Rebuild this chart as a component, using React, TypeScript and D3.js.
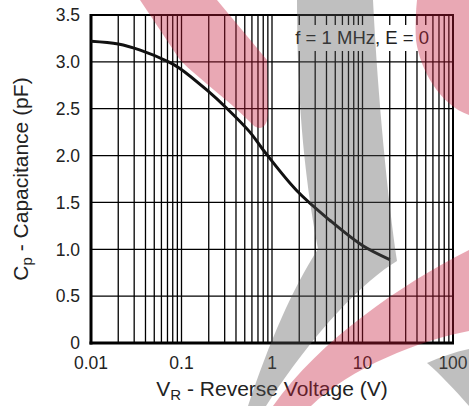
import React, { useEffect } from 'react';
import * as d3 from 'd3';

// Reverse voltage (V) and capacitance (pF)
const voltage = [0.01, 0.02, 0.035, 0.072, 0.096, 0.19, 0.32, 0.57, 0.8, 1.86, 4.35, 10, 20];
const capacitance = [3.22, 3.19, 3.125, 3.0, 2.93, 2.7, 2.5, 2.25, 2.06, 1.63, 1.31, 1.04, 0.89];

const xTickLabels = ['0.01', '0.1', '1', '10', '100'];
const yTickValues = [0, 0.5, 1, 1.5, 2, 2.5, 3, 3.5];

const W = 469;
const H = 406;
const margin = { top: 15, right: 16, bottom: 63, left: 91 };
const FONT = '"Liberation Sans", Arial, Helvetica, sans-serif';

// background logo watermark (decoration only)
const PINK = 'rgb(200,30,60)';
const GREY = 'rgb(90,90,90)';
const watermark = [
  { fill: PINK, d: 'M140,0 L217,0 L267,60 L268,112 C268,130 258,132 250,122 C225,97 200,80 180,60 Z' },
  { fill: PINK, d: 'M417,0 L469,0 L469,115 C440,105 420,70 416,40 C415,25 416,10 417,0 Z' },
  { fill: GREY, d: 'M297,0 L373,0 C378,100 388,200 397,261 C365,280 315,330 266,406 L248,406 C270,340 292,290 318,249 C303,170 297,90 297,0 Z' },
  { fill: PINK, d: 'M273,406 C320,340 400,285 469,250 L469,331 C420,340 350,368 311,406 Z' },
  { fill: GREY, d: 'M427,363 C440,357 455,352 469,349 L469,406 C455,390 440,374 427,363 Z' },
];

const App = () => {
  useEffect(() => {
    document.body.style.margin = '0';
  }, []);

  const innerW = W - margin.left - margin.right;
  const innerH = H - margin.top - margin.bottom;

  const x = d3.scaleLog().domain([0.01, 100]).range([margin.left, margin.left + innerW]);
  const y = d3.scaleLinear().domain([0, 3.5]).range([margin.top + innerH, margin.top]);

  const gridX = x.ticks();
  const majorX = xTickLabels.map(Number);

  const line = d3
    .line<number>()
    .x((_, i) => x(voltage[i]))
    .y((d) => y(d))
    .curve(d3.curveCatmullRom.alpha(0.5));

  const x0 = margin.left;
  const x1 = margin.left + innerW;
  const y0 = margin.top + innerH;
  const y1 = margin.top;

  return (
    <svg width={W} height={H} style={{ display: 'block', background: '#fff' }} fontFamily={FONT}>
      {/* grid */}
      <g stroke="#000" strokeWidth={1.3}>
        {gridX.map((v) => (
          <line key={'gx' + v} x1={x(v)} x2={x(v)} y1={y1} y2={y0} />
        ))}
        {yTickValues.map((v) => (
          <line key={'gy' + v} x1={x0} x2={x1} y1={y(v)} y2={y(v)} />
        ))}
      </g>

      {/* annotation box */}
      <rect x={292} y={25} width={140} height={26} fill="#fff" />
      <text x={429} y={44} textAnchor="end" fontSize={18.5} fill="#222">
        f = 1 MHz, E = 0
      </text>

      {/* frame */}
      <rect x={x0} y={y1} width={innerW} height={innerH} fill="none" stroke="#000" strokeWidth={2} />
      <line x1={x0} x2={x0} y1={y1 - 1} y2={y0 + 1.5} stroke="#000" strokeWidth={3} />
      <line x1={x0 - 1.5} x2={x1 + 1} y1={y0} y2={y0} stroke="#000" strokeWidth={3} />

      {/* curve */}
      <path d={line(capacitance) || ''} fill="none" stroke="#111" strokeWidth={3} />

      {/* tick labels */}
      <g fontSize={17.5} fill="#222">
        {yTickValues.map((v) => (
          <text key={'ty' + v} x={x0 - 11} y={y(v)} dy="0.36em" textAnchor="end">
            {v === 0 ? '0' : v.toFixed(1)}
          </text>
        ))}
        {majorX.map((v, i) => (
          <text key={'tx' + v} x={x(v)} y={369} textAnchor="middle">
            {xTickLabels[i]}
          </text>
        ))}
      </g>

      {/* axis titles */}
      <text x={(x0 + x1) / 2} y={396} textAnchor="middle" fontSize={21} fill="#222">
        V<tspan fontSize={15} dy={4}>R</tspan>
        <tspan dy={-4}> - Reverse Voltage (V)</tspan>
      </text>
      <text
        transform={`translate(28,${(y0 + y1) / 2}) rotate(-90)`}
        textAnchor="middle"
        fontSize={21}
        fill="#222"
      >
        C<tspan fontSize={15} dy={4}>p</tspan>
        <tspan dy={-4}> - Capacitance (pF)</tspan>
      </text>

      {/* watermark */}
      <g opacity={0.38} style={{ pointerEvents: 'none' }}>
        {watermark.map((w, i) => (
          <path key={'wm' + i} d={w.d} fill={w.fill} />
        ))}
      </g>
    </svg>
  );
};

export default App;
